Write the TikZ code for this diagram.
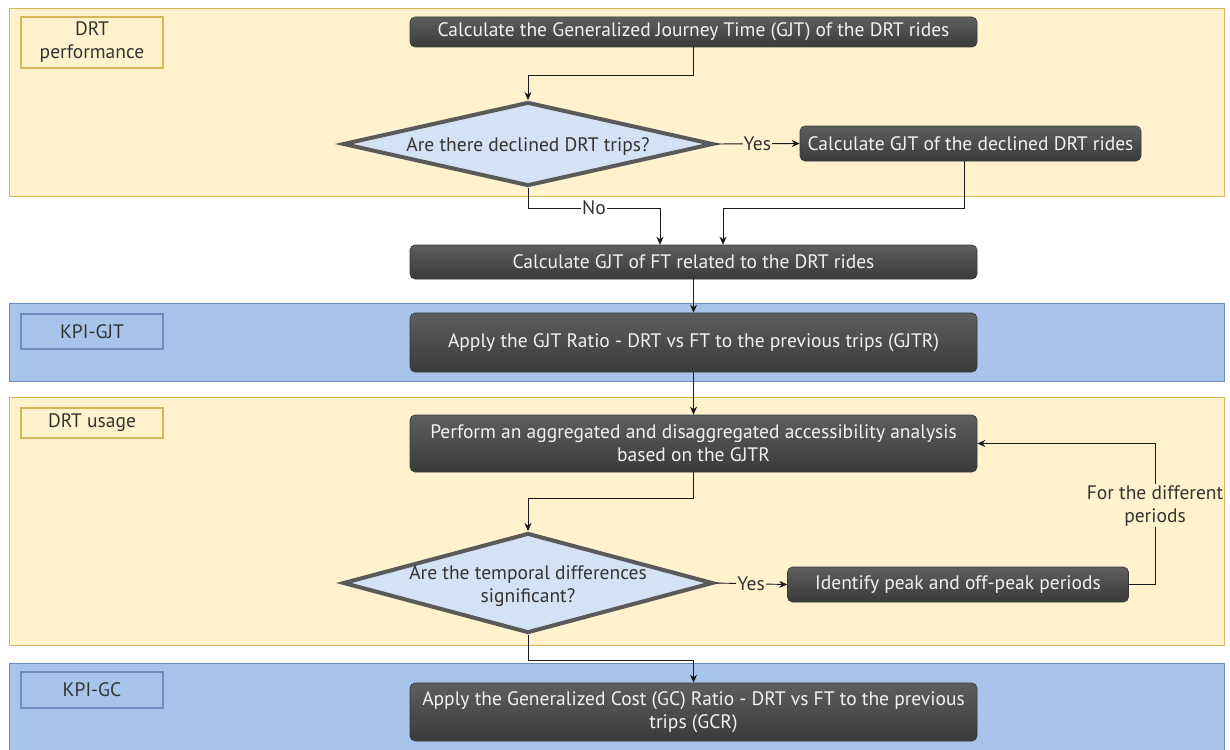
\documentclass[tikz,border=0pt]{standalone}
\usepackage{fontspec}
\setmainfont{PT Sans}
\usetikzlibrary{shapes.geometric,arrows.meta}
\definecolor{laneY}{HTML}{FFF2CC}
\definecolor{laneYb}{HTML}{D6B656}
\definecolor{laneB}{HTML}{A9C4EB}
\definecolor{laneBb}{HTML}{6C8EBF}
\definecolor{boxTop}{HTML}{5E5E5E}
\definecolor{boxBot}{HTML}{3A3A3A}
\definecolor{dfill}{HTML}{D4E2F6}
\definecolor{dline}{HTML}{5A5A5A}
\definecolor{txt}{HTML}{333333}
\tikzset{
  every node/.style={font=\fontsize{19.5}{23}\selectfont},
  procbox/.style={rectangle, rounded corners=5pt, top color=boxTop, bottom color=boxBot, draw=boxBot, line width=0.6pt, text=white!95!black, align=center, inner sep=2pt},
  decision/.style={diamond, draw=dline, line width=4pt, fill=dfill, inner sep=0pt, minimum width=370pt},
  dtext/.style={text=txt, align=center, yshift=-3pt},
  laneY/.style={fill=laneY, draw=laneYb, line width=0.8pt},
  laneB/.style={fill=laneB, draw=laneBb, line width=0.8pt},
  ltagY/.style={rectangle, draw=laneYb, line width=1.6pt, text=txt, align=center, minimum width=142pt, inner sep=1pt},
  ltagB/.style={rectangle, draw=laneBb, line width=1.6pt, text=txt, align=center, minimum width=142pt, inner sep=1pt},
  arr/.style={draw=black!90, line width=0.9pt, -{Stealth[length=8pt,width=7pt]}},
  lbl/.style={text=txt, inner sep=1pt, align=center},
}
\begin{document}
\begin{tikzpicture}[x=1pt,y=-1pt]
\useasboundingbox (0,0) rectangle (1230,749);
\clip (0,0) rectangle (1230,749);
% lanes
\draw[laneY] (9,8) rectangle (1224,196);
\draw[laneB] (9,303) rectangle (1224,381);
\draw[laneY] (9,397) rectangle (1224,645);
\draw[laneB] (9,663) rectangle (1224,760);
% lane tags
\node[ltagY, minimum height=51pt] (t1) at (92,42.5) {DRT\\performance};
\node[ltagB, minimum height=35pt] (t2) at (92,331.5) {KPI-GJT};
\node[ltagY, minimum height=30pt] (t3) at (92,423) {DRT usage};
\node[ltagB, minimum height=36pt] (t4) at (92,690) {KPI-GC};
% process boxes
\node[procbox, minimum width=567pt, minimum height=30pt] (n1) at (693.5,32) {Calculate the Generalized Journey Time (GJT) of the DRT rides};
\node[decision, minimum height=84pt, label={[dtext]center:Are there declined DRT trips?}] (d1) at (528,144) {};
\node[procbox, minimum width=341pt, minimum height=35pt] (n2) at (970.5,143.5) {Calculate GJT of the declined DRT rides};
\node[procbox, minimum width=567pt, minimum height=34pt] (n3) at (693.5,262) {Calculate GJT of FT related to the DRT rides};
\node[procbox, minimum width=567pt, minimum height=59pt] (n4) at (693.5,342.5) {Apply the GJT Ratio - DRT vs FT to the previous trips (GJTR)};
\node[procbox, minimum width=567pt, minimum height=57pt] (n5) at (693.5,443.5) {Perform an aggregated and disaggregated accessibility analysis\\based on the GJTR};
\node[decision, minimum height=100pt, label={[dtext]center:Are the temporal differences\\significant?}] (d2) at (528,583) {};
\node[procbox, minimum width=341pt, minimum height=35pt] (n6) at (958,584.5) {Identify peak and off-peak periods};
\node[procbox, minimum width=567pt, minimum height=58pt] (n7) at (693.5,712) {Apply the Generalized Cost (GC) Ratio - DRT vs FT to the previous\\trips (GCR)};
% junction coordinates
\coordinate (j1) at (660,208);
\coordinate (j2) at (723,208);
\coordinate (c3) at (1155,584.5);
\coordinate (c4) at (1155,443.5);
% connectors
\draw[arr] (n1.south) -- ++(0,28) -| (d1.north);
\draw[arr] (d1.east) -- node[lbl, fill=laneY]{Yes} (n2.west);
\draw[arr] (d1.south) |- node[lbl, fill=white, pos=0.75]{No} (j1) -- (j1 |- n3.north);
\draw[arr] ([xshift=-6pt]n2.south) |- (j2) -- (j2 |- n3.north);
\draw[arr] (n3.south) -- (n4.north);
\draw[arr] (n4.south) -- (n5.north);
\draw[arr] (n5.south) -- ++(0,26) -| (d2.north);
\draw[arr] (d2.east) -- node[lbl, fill=laneY]{Yes} (n6.west);
\draw[arr] (n6.east) -- (c3) -- node[lbl, fill=laneY, pos=0.56]{For the different\\periods} (c4) -- (n5.east);
\draw[arr] (d2.south) -- ++(0,25) -| (n7.north);
\end{tikzpicture}
\end{document}
